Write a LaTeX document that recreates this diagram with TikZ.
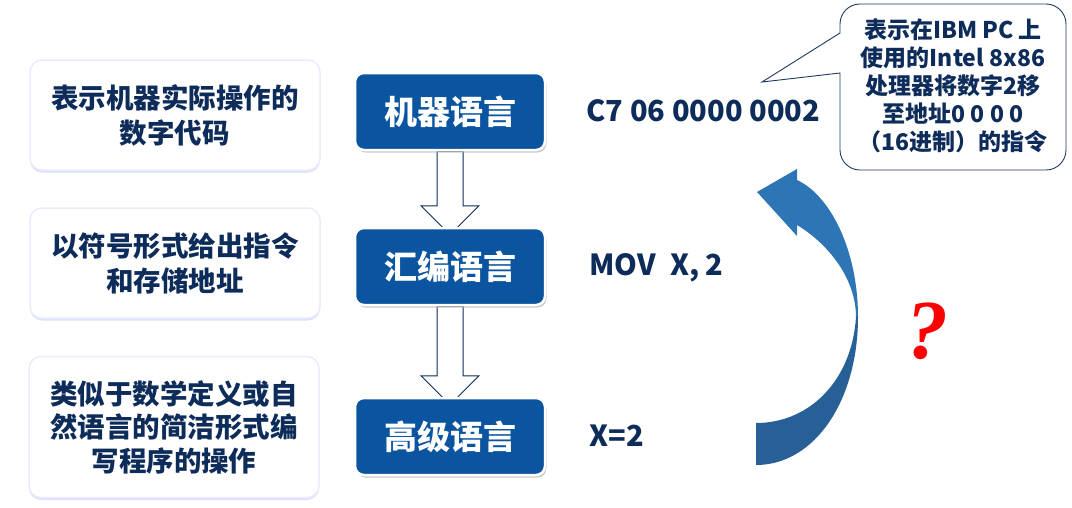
\documentclass[tikz,border=0pt]{standalone}
\usepackage{fontspec}
\setmainfont{Noto Sans CJK SC}
\newfontfamily\qfont{Liberation Serif}
\usepackage{tikz}
\usetikzlibrary{positioning, shapes, calc, shadows, backgrounds}

\definecolor{navy}{RGB}{14,44,90}
\definecolor{boxblue}{RGB}{11,84,160}
\definecolor{arrowtop}{RGB}{46,117,182}
\definecolor{arrowbot}{RGB}{38,96,150}
\definecolor{noteline}{RGB}{31,56,100}

\begin{document}
\begin{tikzpicture}[x=1pt, y=-1pt,
  descbox/.style={fill=white, draw=blue!8, line width=1.5pt, rounded corners=12pt,
    minimum width=290pt, inner sep=0pt, align=center, text=navy,
    drop shadow={shadow xshift=0pt, shadow yshift=-2.5pt, fill=blue!18, opacity=0.7}},
  desctext/.style={font=\fontsize{27.5}{35}\selectfont\bfseries},
  langbox/.style={fill=boxblue, draw=white, line width=2.5pt, rounded corners=9pt,
    minimum width=190pt, minimum height=77pt, text=white,
    font=\fontsize{33}{36}\selectfont\bfseries,
    drop shadow={shadow xshift=1.5pt, shadow yshift=-2.5pt, fill=black!35, opacity=0.6}},
  codetext/.style={anchor=west, text=navy, font=\fontsize{29}{32}\selectfont\bfseries},
  hollow/.style={draw=navy, fill=white, line width=1pt, line join=miter}]

\useasboundingbox (0,0) rectangle (1072,507);

% left: descriptions
\node[descbox, desctext, minimum height=110pt] (d1) at (175,115) {表示机器实际操作的\\数字代码};
\node[descbox, desctext, minimum height=110pt] (d2) at (175,263) {以符号形式给出指令\\和存储地址};
\node[descbox, minimum height=141pt, font=\fontsize{27.5}{33.5}\selectfont\bfseries] (d3) at (174,427)
  {类似于数学定义或自\\然语言的简洁形式编\\写程序的操作};

% middle: languages
\node[langbox] (mach) at (450,111.5) {机器语言};
\node[langbox] (asm)  at (450,266.5) {汇编语言};
\node[langbox] (high) at (450,436.5) {高级语言};

\begin{scope}[on background layer]
\foreach \a/\b in {mach/asm, asm/high}
  \draw[hollow] ($(\a.south)+(-13,0)$) -- ($(\b.north)+(-13,-21)$) -- ($(\b.north)+(-29,-21)$)
    -- ($(\b.north)+(0,8)$) -- ($(\b.north)+(29,-21)$) -- ($(\b.north)+(13,-21)$)
    -- ($(\a.south)+(13,0)$) -- cycle;
\end{scope}

% right: code
\node[codetext] (c1) at (583,111) {C7 06 0000 0002};
\node[codetext] (c2) at (586,268) {MOV\hspace{14pt}X, 2};
\node[codetext] (c3) at (586,436) {X=2};

% callout
\draw[noteline, line width=0.9pt, fill=white] (762,82) -- (840,73)
  {[rounded corners=20pt] -- (840,170) -- (1066,170) -- (1066,4) -- (840,4)} -- (840,33) -- cycle;
\node[text=navy, align=center, font=\fontsize{23}{28}\selectfont\bfseries] (note) at (953,86)
  {表示在IBM PC 上\\使用的Intel 8x86\\处理器将数字2移\\至地址0 0 0 0\\（16进制）的指令};

% curved arrow
\fill[arrowtop] (858,317) .. controls (858,250) and (830,195) .. (797,180) -- (797,169) -- (757,192)
  -- (797,236) -- (797,225) .. controls (830,245) and (856,280) .. (856,317) -- cycle;
\fill[arrowbot] (858,317) .. controls (858,400) and (815,465) .. (756,465) -- (756,423)
  .. controls (810,423) and (852,380) .. (856,317) -- cycle;

\node[text=red, font=\qfont\bfseries\itshape\fontsize{84}{84}\selectfont] (ask) at (927,331) {?};
\end{tikzpicture}
\end{document}
